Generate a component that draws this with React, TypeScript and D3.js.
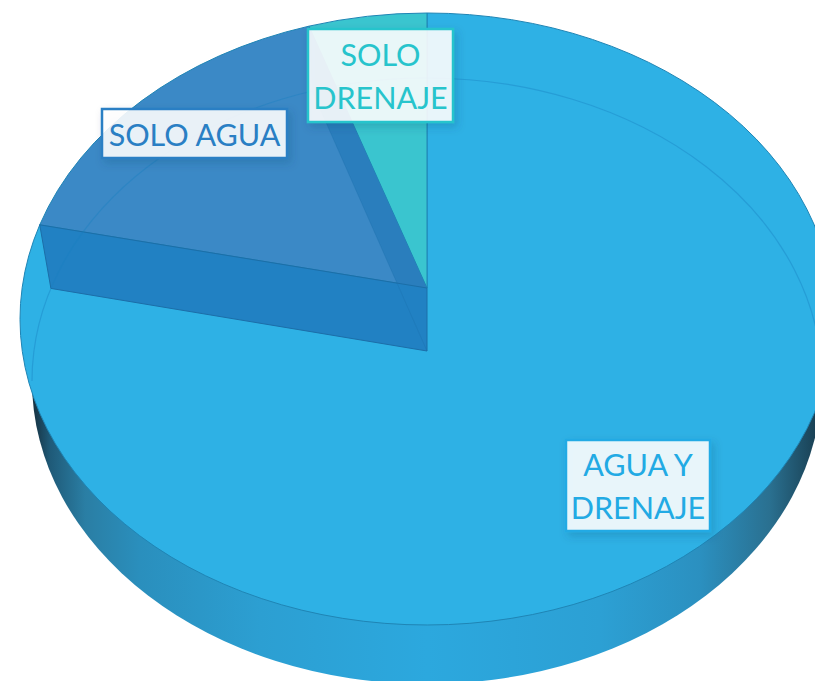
import React from "react";
import * as d3 from "d3";

const categories = ["AGUA Y DRENAJE", "SOLO AGUA", "SOLO DRENAJE"];
const shares = [78.4, 16.4, 5.2];
const topColors = ["#2eb1e5", "#3b89c6", "#3ac5cf"];
const labelLines = [["AGUA Y", "DRENAJE"], ["SOLO AGUA"], ["SOLO", "DRENAJE"]];
const labelColors = ["#22aae4", "#2a7fc4", "#27c4cc"];

const W = 815, H = 681;
const cx = 427;
const topEl = { cy: 319, rx: 407, ry: 306, apexY: 288 };
const botEl = { cy: 381, rx: 395, ry: 303, apexY: 351 };
const boxes = [
  { x: 566, y: 440, w: 144, h: 91, lh: 43 },
  { x: 102, y: 109, w: 185, h: 49, lh: 0 },
  { x: 308, y: 29, w: 145, h: 93, lh: 43 },
];

type El = typeof topEl;
function project(el: El, a: number): [number, number] {
  const v0 = (el.apexY - el.cy) / el.ry;
  const du = Math.sin(a), dv = -Math.cos(a);
  const b = v0 * dv;
  const t = -b + Math.sqrt(b * b - (v0 * v0 - 1));
  return [cx + du * t * el.rx, el.cy + (v0 + dv * t) * el.ry];
}
function slicePath(el: El, a0: number, a1: number) {
  const p0 = project(el, a0), p1 = project(el, a1);
  const large = a1 - a0 > Math.PI ? 1 : 0;
  return `M${cx},${el.apexY}L${p0[0]},${p0[1]}A${el.rx},${el.ry} 0 ${large} 1 ${p1[0]},${p1[1]}Z`;
}
function wallPath(a: number) {
  const t = project(topEl, a), b = project(botEl, a);
  return `M${cx},${topEl.apexY}L${t[0]},${t[1]}L${b[0]},${b[1]}L${cx},${botEl.apexY}Z`;
}

export default function App() {
  const arcs = d3.pie<number>().sort(null)(shares);
  const agua = arcs[1], dren = arcs[2];
  const sideX = d3.scaleLinear().domain([32, 822]).range([0, 1]);
  const sideStops: [number, string][] = [
    [32, "#16303e"], [50, "#1f5a78"], [85, "#2a7ea4"], [140, "#2a8fbd"], [260, "#2c9fd2"], [427, "#2ca8de"],
    [600, "#2ca0d4"], [700, "#2b90c0"], [770, "#2a7090"], [815, "#1a4256"],
  ];
  const bottomEnd = project(botEl, dren.startAngle);
  const fontFamily = "Lato, 'Open Sans', sans-serif";
  return (
    <svg width={W} height={H} viewBox={`0 0 ${W} ${H}`}
      style={{ position: "absolute", left: 0, top: 0, display: "block", background: "#fff" }}>
      <defs>
        <linearGradient id="side" gradientUnits="objectBoundingBox" x1="0" x2="1" y1="0" y2="0">
          {sideStops.map(([x, c]) => (
            <stop key={x} offset={sideX(x)} stopColor={c} />
          ))}
        </linearGradient>
        <clipPath id="aguaClip"><path d={slicePath(topEl, agua.startAngle, agua.endAngle)} /></clipPath>
        {labelColors.map((c, i) => (
          <filter key={i} id={`sh${i}`} x="-20%" y="-30%" width="140%" height="160%">
            <feDropShadow dx="3" dy="4" stdDeviation="4" floodColor="#0a3d66" floodOpacity="0.22" />
          </filter>
        ))}
      </defs>

      {/* side of the disc */}
      <ellipse cx={cx} cy={botEl.cy} rx={botEl.rx} ry={botEl.ry} fill="url(#side)" />

      {/* top slices */}
      {arcs.map((a, i) => (
        <path key={categories[i]} d={slicePath(topEl, a.startAngle, a.endAngle)} fill={topColors[i]}
          stroke="#1f85b5" strokeWidth={1} />
      ))}

      {/* far wall seen through the blue slice */}
      <path d={wallPath(dren.startAngle)} fill="#2a7ebd" clipPath="url(#aguaClip)" />

      {/* near wall of SOLO AGUA */}
      <path d={wallPath(agua.startAngle)} fill="#2181c3" stroke="#1c6ea8" strokeWidth={1} />

      {/* faint edges seen through the disc */}
      <path d={`M${cx},${botEl.apexY}L${bottomEnd[0]},${bottomEnd[1]}`}
        fill="none" stroke="#1c6ea8" strokeOpacity={0.3} strokeWidth={1} />
      <path d={`M${cx - botEl.rx},${botEl.cy}A${botEl.rx},${botEl.ry} 0 0 1 ${cx + botEl.rx},${botEl.cy}`}
        fill="none" stroke="#1a7fc0" strokeOpacity={0.4} strokeWidth={1.2} />

      {/* labels */}
      {categories.map((cat, i) => {
        const b = boxes[i];
        const lines = labelLines[i];
        const mid = b.x + b.w / 2;
        const cy = b.y + b.h / 2;
        return (
          <g key={cat}>
            <rect x={b.x} y={b.y} width={b.w} height={b.h} fill="#ffffff" fillOpacity={0.88}
              stroke={labelColors[i]} strokeWidth={2.5} filter={`url(#sh${i})`} />
            {lines.map((t, j) => (
              <text key={t} x={mid} y={cy + (j - (lines.length - 1) / 2) * b.lh + 12}
                textAnchor="middle" fontFamily={fontFamily} fontSize={30.5} fill={labelColors[i]}>
                {t}
              </text>
            ))}
          </g>
        );
      })}
    </svg>
  );
}
